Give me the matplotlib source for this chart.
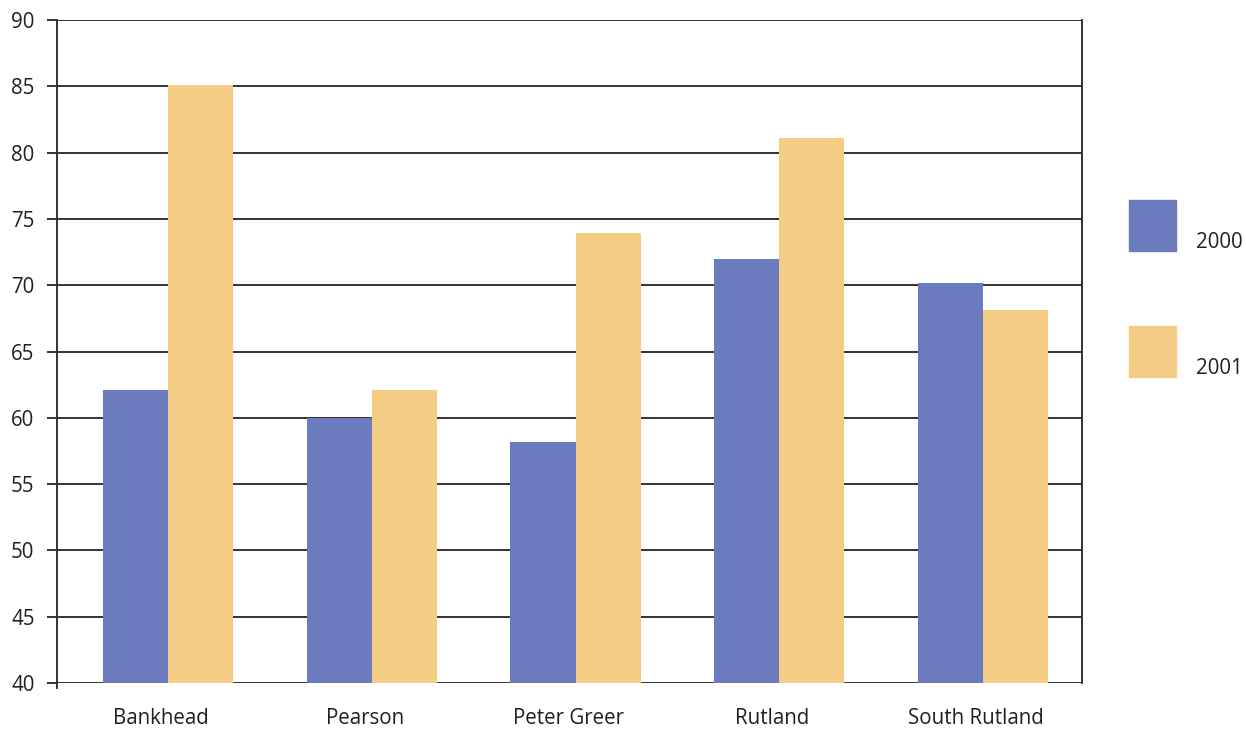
import matplotlib.pyplot as plt
from matplotlib.patches import Rectangle
from matplotlib.transforms import ScaledTranslation
import numpy as np

plt.rcParams['font.family'] = ['Open Sans', 'DejaVu Sans']

# Daten
schools = ['Bankhead', 'Pearson', 'Peter Greer', 'Rutland', 'South Rutland']
years = ['2000', '2001']
vals_2000 = [62.1, 60.0, 58.2, 72.0, 70.2]
vals_2001 = [85.1, 62.1, 73.9, 81.1, 68.1]
yticks = [40, 45, 50, 55, 60, 65, 70, 75, 80, 85, 90]

c2000 = '#6b7bbd'
c2001 = '#f5cc84'
grid_col = '#333333'
txt_col = '#231f20'

fig = plt.figure(figsize=(12.46, 7.30), dpi=100)
ax = fig.add_axes([57 / 1246, 1 - 683 / 730, 1025 / 1246, 663 / 730])

x = np.arange(len(schools))
w = 0.32
ax.bar(x - w / 2, vals_2000, width=w, color=c2000, zorder=3)
ax.bar(x + w / 2, vals_2001, width=w, color=c2001, zorder=3)

ax.set_ylim(40, 90)
ax.set_xlim(-0.545, 4.486)
ax.set_yticks(yticks)
ax.set_xticks(x)
ax.set_xticklabels(schools)

# Gitterlinien
for t in yticks:
    ax.axhline(t, color=grid_col, lw=1.4, zorder=2)

for s in ['top', 'bottom']:
    ax.spines[s].set_visible(False)
ax.spines['left'].set_color(grid_col)
ax.spines['left'].set_linewidth(1.4)
ax.spines['left'].set_bounds(39.6, 90)
ax.spines['right'].set_color(grid_col)
ax.spines['right'].set_linewidth(1.4)

ax.tick_params(axis='y', length=7.2, width=1.4, color=grid_col, pad=9,
               labelsize=14.8, labelcolor=txt_col)
ax.tick_params(axis='x', length=0, pad=18, labelsize=14.8, labelcolor=txt_col)

# Beschriftungen leicht nach links
shift = ScaledTranslation(-7 / 100, 0, fig.dpi_scale_trans)
for lab in ax.get_xticklabels():
    lab.set_transform(lab.get_transform() + shift)

# Legende
for i, (yr, col) in enumerate(zip(years, [c2000, c2001])):
    y0 = 1 - (251 + i * 126) / 730
    fig.add_artist(Rectangle((1129 / 1246, y0), 47 / 1246, 51 / 730,
                             transform=fig.transFigure, color=col))
    fig.text(1196 / 1246, 1 - (242 + i * 126) / 730, yr, fontsize=14.8,
             color=txt_col, va='center', ha='left')

fig.savefig('out.png', dpi=100)
